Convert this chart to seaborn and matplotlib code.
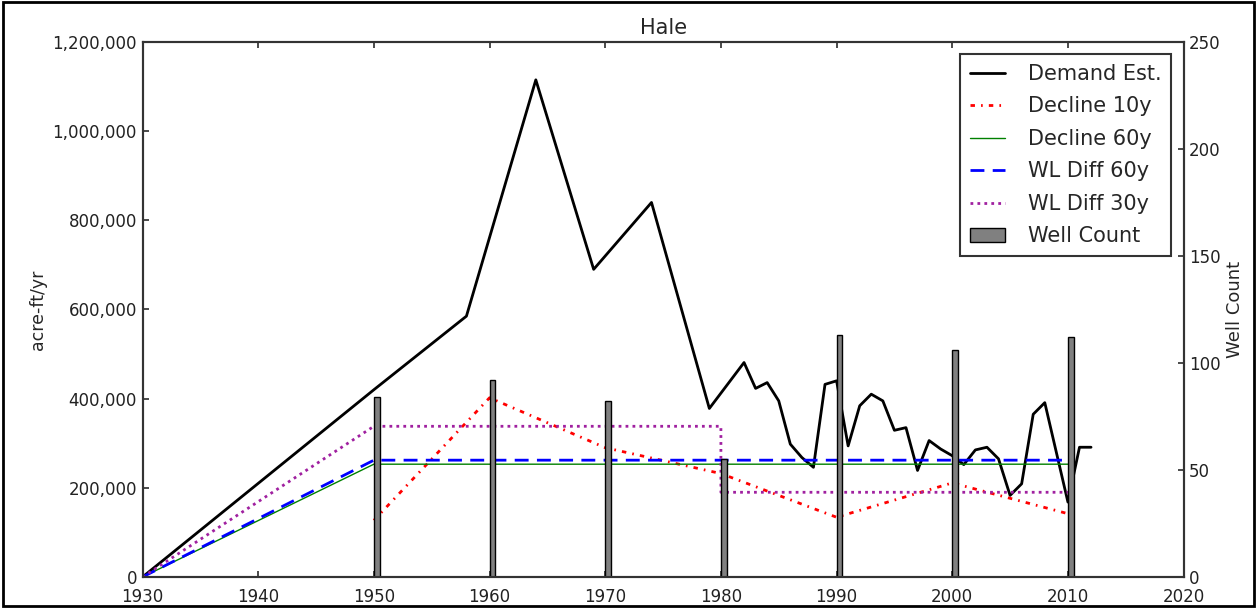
import matplotlib
matplotlib.use('Agg')
import matplotlib.pyplot as plt
from matplotlib.patches import Rectangle
from matplotlib.ticker import FuncFormatter, MultipleLocator
import seaborn as sns

# demand estimate (acre-ft/yr)
demand_years = [1930, 1950, 1958, 1964, 1969, 1974, 1979, 1982, 1983, 1984,
                1985, 1986, 1987, 1988, 1989, 1990, 1991, 1992, 1993, 1994,
                1995, 1996, 1997, 1998, 1999, 2000, 2001, 2002, 2003, 2004,
                2005, 2006, 2007, 2008, 2010, 2011, 2012]
demand_vals = [0, 420000, 585000, 1115000, 690000, 840000, 378000, 481000, 423000, 436000,
               395000, 298000, 268000, 246000, 432000, 440000, 294000, 384000, 410000, 395000,
               329000, 335000, 239000, 306000, 287000, 272000, 252000, 285000, 291000, 265000,
               183000, 209000, 365000, 391000, 168000, 291000, 291000]

decline10_years = [1950, 1960, 1970, 1980, 1990, 2000, 2010]
decline10_vals = [127000, 402000, 290000, 232000, 134000, 211000, 142000]

decline60_years = [1930, 1950, 2010]
decline60_vals = [0, 253000, 253000]

wl60_years = [1930, 1950, 2010]
wl60_vals = [0, 262000, 262000]

wl30_years = [1930, 1950, 1980, 1980, 2010]
wl30_vals = [0, 338000, 338000, 190000, 190000]

well_years = [1950, 1960, 1970, 1980, 1990, 2000, 2010]
well_counts = [84, 92, 82, 55, 113, 106, 112]

sns.set_theme(style='white', rc={
    'xtick.direction': 'in', 'ytick.direction': 'in',
    'xtick.top': True, 'xtick.bottom': True,
    'ytick.left': True, 'ytick.right': True,
    'xtick.major.size': 4, 'ytick.major.size': 4,
    'axes.edgecolor': '#333333', 'axes.linewidth': 1.5,
    'xtick.color': '#333333', 'ytick.color': '#333333',
    'xtick.labelcolor': '#222222', 'ytick.labelcolor': '#222222',
})
plt.rcParams['font.family'] = ['DejaVu Sans']

fig = plt.figure(figsize=(12.57, 6.08), dpi=100)
ax1 = fig.add_axes([0.1134, 0.051, 0.8282, 0.880])
ax2 = ax1.twinx()

sns.lineplot(x=demand_years, y=demand_vals, ax=ax1, color='black', lw=2,
             estimator=None, sort=False, label='Demand Est.')
sns.lineplot(x=decline10_years, y=decline10_vals, ax=ax1, color='red', lw=2,
             estimator=None, sort=False, label='Decline 10y')
sns.lineplot(x=decline60_years, y=decline60_vals, ax=ax1, color='green', lw=1,
             estimator=None, sort=False, label='Decline 60y')
sns.lineplot(x=wl60_years, y=wl60_vals, ax=ax1, color='blue', lw=2,
             estimator=None, sort=False, label='WL Diff 60y')
sns.lineplot(x=wl30_years, y=wl30_vals, ax=ax1, color='#a020a0', lw=2,
             estimator=None, sort=False, label='WL Diff 30y')

lines = ax1.get_lines()
lines[1].set_dashes((1.6, 2.2, 0.6, 2.2))
lines[3].set_dashes((5, 3))
lines[4].set_dashes((1, 1.5))

if ax1.get_legend() is not None:
    ax1.get_legend().remove()

ax2.bar(well_years, well_counts, width=0.5, align='edge', color='#808080',
        edgecolor='black', linewidth=1, label='Well Count')

ax1.set_xlim(1930, 2020)
ax1.set_ylim(0, 1200000)
ax2.set_ylim(0, 250)
ax1.xaxis.set_major_locator(MultipleLocator(10))
ax1.yaxis.set_major_locator(MultipleLocator(200000))
ax2.yaxis.set_major_locator(MultipleLocator(50))
ax1.yaxis.set_major_formatter(FuncFormatter(lambda v, p: f'{int(v):,}'))
ax1.tick_params(labelsize=12, pad=4)
ax1.tick_params(axis='x', pad=8)
ax2.tick_params(labelsize=12, pad=4, direction='in')

ax1.set_ylabel('acre-ft/yr', fontsize=12.5)
ax2.set_ylabel('Well Count', fontsize=13)
ax1.set_title('Hale', fontsize=15, pad=6)

h1, l1 = ax1.get_legend_handles_labels()
h2, l2 = ax2.get_legend_handles_labels()
leg = ax2.legend(h1 + h2, l1 + l2, loc='upper right', fontsize=15,
                 fancybox=False, framealpha=1, edgecolor='#333333',
                 borderaxespad=0.6, labelspacing=0.6, handlelength=1.7,
                 handletextpad=1.1, borderpad=0.45)
leg.get_frame().set_linewidth(1.5)

fig.patches.append(Rectangle((0.002, 0.003), 0.996, 0.994, transform=fig.transFigure,
                             fill=False, edgecolor='black', linewidth=2))

fig.savefig('out.png', dpi=100)
